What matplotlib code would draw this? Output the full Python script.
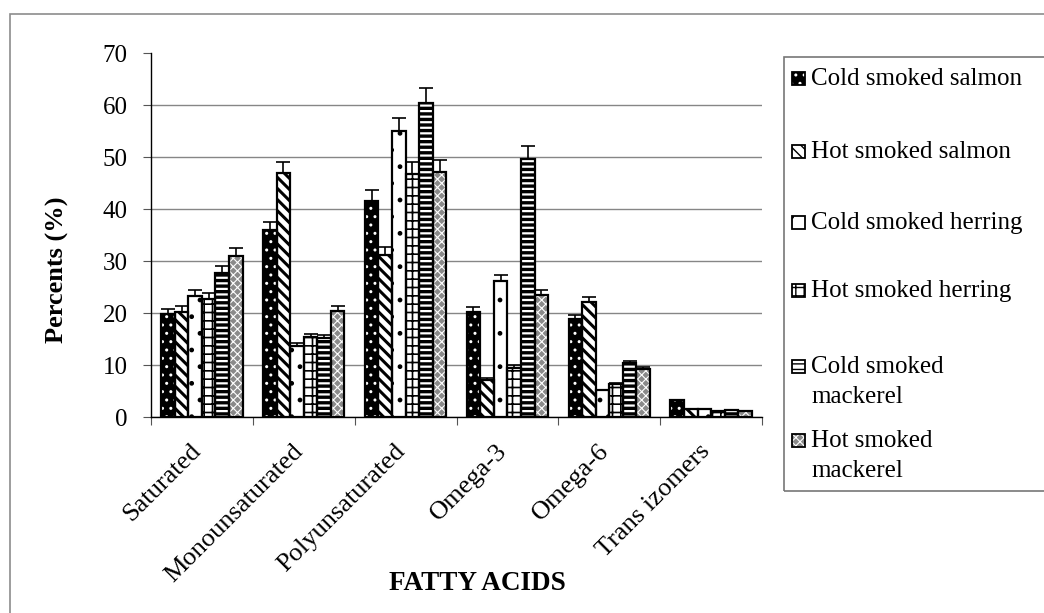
import numpy as np
import matplotlib
matplotlib.use("Agg")
import matplotlib.pyplot as plt
import matplotlib.transforms as mtransforms
from matplotlib.patches import Rectangle

# data
categories = ["Saturated", "Monounsaturated", "Polyunsaturated",
              "Omega-3", "Omega-6", "Trans izomers"]
series = ["Cold smoked salmon", "Hot smoked salmon", "Cold smoked herring",
          "Hot smoked herring", "Cold smoked mackerel", "Hot smoked mackerel"]

cold_salmon = [19.8, 35.9, 41.6, 20.2, 18.8, 3.2]
hot_salmon = [20.3, 46.9, 31.2, 7.2, 22.1, 1.5]
cold_herring = [23.3, 13.7, 55.0, 26.1, 5.2, 1.5]
hot_herring = [22.7, 15.4, 46.8, 9.5, 6.3, 1.2]
cold_mackerel = [27.8, 15.2, 60.4, 49.7, 10.4, 1.3]
hot_mackerel = [31.0, 20.4, 47.2, 23.4, 9.2, 1.1]

cold_salmon_err = [0.9, 1.6, 2.1, 1.0, 0.8, 0.0]
hot_salmon_err = [1.1, 2.2, 1.5, 0.3, 1.0, 0.0]
cold_herring_err = [1.1, 0.6, 2.6, 1.3, 0.0, 0.0]
hot_herring_err = [1.1, 0.6, 2.2, 0.5, 0.2, 0.0]
cold_mackerel_err = [1.3, 0.6, 2.9, 2.4, 0.4, 0.0]
hot_mackerel_err = [1.6, 1.0, 2.3, 1.1, 0.4, 0.0]

values = [cold_salmon, hot_salmon, cold_herring, hot_herring, cold_mackerel, hot_mackerel]
errors = [cold_salmon_err, hot_salmon_err, cold_herring_err, hot_herring_err,
          cold_mackerel_err, hot_mackerel_err]

# (face colour, hatch, hatch colour, hatch linewidth)
styles = [
    ("black", "..", "white", 1.0),
    ("white", "\\\\\\", "black", 2.2),
    ("white", ".", "black", 1.0),
    ("white", "++", "black", 1.2),
    ("white", "---", "black", 2.4),
    ("#8a8a8a", "xxxx", "white", 0.8),
]

plt.rcParams["font.family"] = ["Liberation Serif", "DejaVu Serif"]
FS = 18

W, H = 1044, 613
fig = plt.figure(figsize=(W / 100, H / 100), dpi=100)

# outer chart frame
fig.patches.append(Rectangle((10 / W, -0.1), 1.1, 1 - 14 / H + 0.1, transform=fig.transFigure,
                             fill=False, edgecolor="#8c8c8c", lw=1.2))

ax = fig.add_axes([151 / W, 1 - 417 / H, 611 / W, (417 - 53.3) / H])

x = np.arange(len(categories))
n = len(series)
bw = 0.8 / n
for i, (vals, errs, st) in enumerate(zip(values, errors, styles)):
    face, hatch, hcol, hlw = st
    plt.rcParams["hatch.linewidth"] = hlw
    pos = x + (i - (n - 1) / 2) * bw
    ax.bar(pos, vals, bw, color=face, edgecolor=hcol, hatch=hatch, linewidth=0, zorder=2)
    ax.bar(pos, vals, bw, fill=False, edgecolor="black", linewidth=1.6, zorder=3)
    ax.errorbar(pos, vals, yerr=[np.zeros(len(errs)), errs], fmt="none", ecolor="black",
                elinewidth=1.2, capsize=5, capthick=1.2, zorder=4)

ax.set_xlim(-0.5, len(categories) - 0.5)
ax.set_ylim(0, 70)
ax.set_yticks(np.arange(0, 71, 10))
ax.yaxis.grid(True, color="#868686", lw=1.0, zorder=0)
ax.set_axisbelow(True)
ax.yaxis.get_gridlines()[-1].set_visible(False)

ax.set_xticks(np.arange(len(categories) + 1) - 0.5)
ax.set_xticklabels([])
ax.set_xticks(x, minor=True)
ax.set_xticklabels(categories, minor=True, rotation=45, ha="right", va="center",
                   rotation_mode="anchor", fontsize=19)
ax.tick_params(axis="x", which="minor", length=0, pad=22)
ax.tick_params(axis="x", which="major", length=6, width=0.8, color="#555555")
ax.tick_params(axis="y", length=6, width=0.8, color="#555555", labelsize=FS, pad=11)
shift = mtransforms.ScaledTranslation(-4 / 100, 0, fig.dpi_scale_trans)
for lab in ax.get_xticklabels(minor=True):
    lab.set_transform(lab.get_transform() + shift)

for s in ["top", "right"]:
    ax.spines[s].set_visible(False)
for s in ["left", "bottom"]:
    ax.spines[s].set_color("black")
    ax.spines[s].set_linewidth(1.0)

fig.text(477 / W, 1 - 583 / H, "FATTY ACIDS", ha="center", va="center",
         fontsize=19.5, fontweight="bold")
fig.text(57 / W, 1 - 270 / H, "Percents (%)", ha="center", va="center",
         rotation=90, fontsize=19, fontweight="bold")

# legend box on the right
fig.patches.append(Rectangle((784 / W, 1 - 491 / H), 0.5, (491 - 57) / H,
                             transform=fig.transFigure, fill=False,
                             edgecolor="#777777", lw=1.2))
leg_y = [78, 151, 222, 290, 366, 440]
for name, st, yc in zip(series, styles, leg_y):
    face, hatch, hcol, hlw = st
    plt.rcParams["hatch.linewidth"] = min(hlw, 1.0)
    sq = 13
    fig.patches.append(Rectangle((792 / W, 1 - (yc + sq / 2) / H), sq / W, sq / H,
                                 transform=fig.transFigure, facecolor=face,
                                 edgecolor=hcol, hatch=hatch, lw=0))
    fig.patches.append(Rectangle((792 / W, 1 - (yc + sq / 2) / H), sq / W, sq / H,
                                 transform=fig.transFigure, fill=False,
                                 edgecolor="black", lw=1.3))
    label = name.replace("smoked ", "smoked\n") if "mackerel" in name else name
    fig.text(811 / W, 1 - (yc - 10) / H, label, ha="left", va="top",
             fontsize=FS, linespacing=1.45)

fig.savefig("out.png", dpi=100)
